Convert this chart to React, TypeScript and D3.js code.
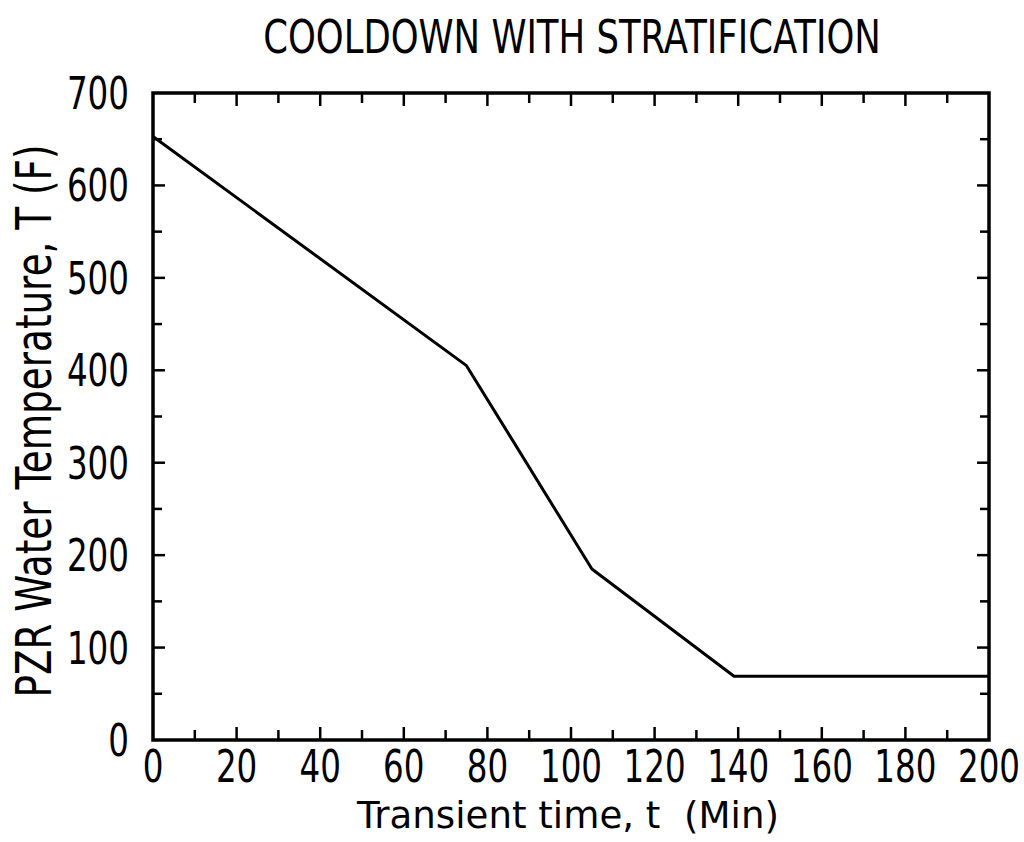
import React, { useRef, useEffect } from "react";
import * as d3 from "d3";

// cooldown curve (minutes, deg F)
const timeMin = [0, 75, 105, 139, 200];
const tempF = [653, 405, 185, 69, 69];

const xTicks = [0, 20, 40, 60, 80, 100, 120, 140, 160, 180, 200];
const yTicks = [0, 100, 200, 300, 400, 500, 600, 700];
const xMinor = [10, 30, 50, 70, 90, 110, 130, 150, 170, 190];
const yMinor = [50, 150, 250, 350, 450, 550, 650];

const title = "COOLDOWN WITH STRATIFICATION";
const xLabel = "Transient time, t  (Min)";
const yLabel = "PZR Water Temperature, T (F)";

const FONT = "'DejaVu Sans', sans-serif";
const NARROW = 0.74; // squeeze glyphs to look like the plotter font

const App = () => {
	const svgRef = useRef(null);
	const W = 1024;
	const H = 842;
	const left = 153;
	const right = 989;
	const top = 93;
	const bottom = 740;

	useEffect(() => {
		const svg = d3.select(svgRef.current);
		svg.selectAll("*").remove();

		const x = d3.scaleLinear().domain([0, 200]).range([left, right]);
		const y = d3.scaleLinear().domain([0, 700]).range([bottom, top]);

		// frame
		svg.append("rect")
			.attr("x", left).attr("y", top)
			.attr("width", right - left).attr("height", bottom - top)
			.attr("fill", "none").attr("stroke", "black").attr("stroke-width", 3.5);

		const tk = svg.append("g").attr("stroke", "black").attr("stroke-width", 2.5);

		// x ticks, bottom and top, pointing in
		const xt = (vals, len) => {
			vals.forEach(v => {
				tk.append("line").attr("x1", x(v)).attr("x2", x(v))
					.attr("y1", bottom).attr("y2", bottom - len);
				tk.append("line").attr("x1", x(v)).attr("x2", x(v))
					.attr("y1", top).attr("y2", top + len);
			});
		};
		xt(xTicks.slice(1, -1), 13);
		xt(xMinor, 10);

		const yt = (vals, len) => {
			vals.forEach(v => {
				tk.append("line").attr("y1", y(v)).attr("y2", y(v))
					.attr("x1", left).attr("x2", left + len);
				tk.append("line").attr("y1", y(v)).attr("y2", y(v))
					.attr("x1", right).attr("x2", right - len);
			});
		};
		yt(yTicks.slice(1, -1), 12);
		yt(yMinor, 9);

		// tick labels
		svg.append("g")
			.selectAll("text")
			.data(xTicks)
			.join("text")
			.attr("transform", d => `translate(${x(d)}, 782) scale(${NARROW}, 1)`)
			.attr("text-anchor", "middle")
			.attr("font-family", FONT)
			.attr("font-size", 44)
			.text(d => d);

		svg.append("g")
			.selectAll("text")
			.data(yTicks)
			.join("text")
			.attr("transform", d => `translate(129, ${y(d) + 16}) scale(${NARROW}, 1)`)
			.attr("text-anchor", "end")
			.attr("font-family", FONT)
			.attr("font-size", 44)
			.text(d => d);

		// the curve
		const line = d3.line()
			.x((d, i) => x(timeMin[i]))
			.y(d => y(d));
		svg.append("path")
			.datum(tempF)
			.attr("fill", "none")
			.attr("stroke", "black")
			.attr("stroke-width", 3)
			.attr("stroke-linejoin", "round")
			.attr("d", line);

		// title and axis labels, squeezed to the width seen in the scan
		const fitted = (str, size, width, place) => {
			const t = svg.append("text")
				.attr("text-anchor", "middle")
				.attr("font-family", FONT)
				.attr("font-size", size)
				.style("white-space", "pre")
				.text(str);
			const natural = t.node().getComputedTextLength() || width;
			t.attr("transform", `${place} scale(${width / natural}, 1)`);
			return t;
		};
		fitted(title, 46, 618, "translate(572, 53)");
		fitted(xLabel, 38, 422, "translate(568, 828)");
		fitted(yLabel, 49, 553, "translate(51, 421) rotate(-90)");
	});

	return (
		<svg ref={svgRef} width={W} height={H}
			style={{ position: "absolute", left: 0, top: 0, background: "white" }}>
		</svg>
	);
};

export default App;
